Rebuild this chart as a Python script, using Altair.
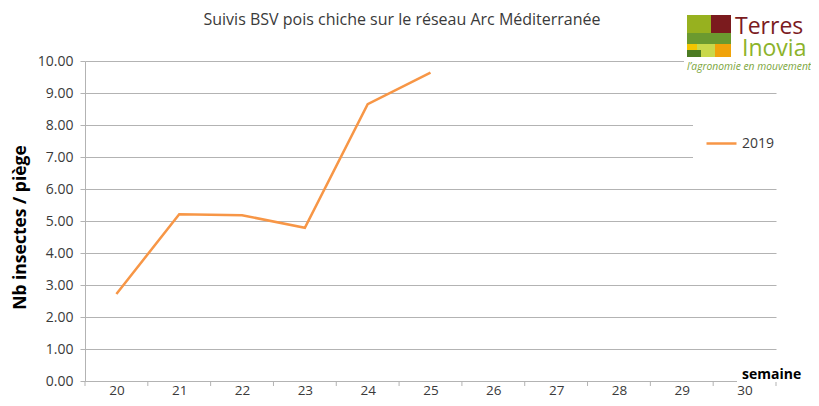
import altair as alt
import pandas as pd

# ---- data ----
weeks = [20, 21, 22, 23, 24, 25, 26, 27, 28, 29, 30]
obs_weeks = [20, 21, 22, 23, 24, 25]
values_2019 = [2.72, 5.21, 5.18, 4.79, 8.65, 9.64]
series_name = "2019"
y_ticks = [0, 1, 2, 3, 4, 5, 6, 7, 8, 9, 10]
title_text = "Suivis BSV pois chiche sur le réseau Arc Méditerranée"

df = pd.DataFrame({"semaine": obs_weeks, "valeur": values_2019, "serie": [series_name] * len(obs_weeks)})
bounds = pd.DataFrame({"b": [w - 0.5 for w in weeks] + [weeks[-1] + 0.5]})
one = pd.DataFrame({"a": [0]})

W, H = 691, 320
FONT = "Open Sans"
GRAY = "#b3b3b3"

xscale = alt.Scale(domain=[weeks[0] - 0.5, weeks[-1] + 0.5], nice=False, zero=False)
yscale = alt.Scale(domain=[0, 10], nice=False)
x_axis = alt.Axis(values=weeks, format="d", tickSize=0, grid=False, title=None,
                  labelFontSize=13.5, labelColor="#3a3a3a", labelPadding=2, labelFont=FONT,
                  domainColor=GRAY, domainWidth=1, labelFlush=False)
y_axis = alt.Axis(values=y_ticks, format=".2f", grid=True, gridColor=GRAY, gridWidth=1,
                  tickColor=GRAY, tickSize=5, domainColor=GRAY, labelFontSize=14,
                  labelColor="#3a3a3a", labelPadding=7, labelFont=FONT,
                  title="Nb insectes / piège", titleFontSize=17.5, titleFontWeight="bold",
                  titleFont=FONT, titleColor="#000000", titleX=-65, titleY=H / 2 + 6,
                  titleAngle=270, titleBaseline="middle", titleAlign="center")

line = alt.Chart(df).mark_line(strokeWidth=2.5).encode(
    x=alt.X("semaine:Q", scale=xscale, axis=x_axis),
    y=alt.Y("valeur:Q", scale=yscale, axis=y_axis),
    color=alt.Color("serie:N", scale=alt.Scale(domain=[series_name], range=["#f79646"]),
                    legend=alt.Legend(title=None, orient="none", legendX=608, legendY=54,
                                      fillColor="white", padding=12, symbolType="stroke",
                                      symbolSize=900, symbolStrokeWidth=2.5,
                                      labelFontSize=14, labelFont=FONT, labelColor="#3a3a3a",
                                      labelOffset=4)),
)

ticks = alt.Chart(bounds).mark_rule(color=GRAY, strokeWidth=1).encode(
    x=alt.X("b:Q", scale=xscale, axis=x_axis),
    y=alt.value(H), y2=alt.value(H + 5),
)

def rect(x1, x2, y1, y2, color):
    return alt.Chart(one).mark_rect(color=color, strokeWidth=0).encode(
        x=alt.value(x1), x2=alt.value(x2), y=alt.value(y1), y2=alt.value(y2))

def txt(s, x, y, size, color, weight="normal", style="normal", align="left", font=FONT):
    return alt.Chart(one).mark_text(align=align, baseline="alphabetic", fontSize=size,
                                    color=color, fontWeight=weight, fontStyle=style,
                                    font=font).encode(
        x=alt.value(x), y=alt.value(y), text=alt.value(s))

# white cover behind the "semaine" label and the logo tagline
cover_sem = rect(652, 730, 305, 321, "white")
cover_logo = rect(599, 730, -3, 13, "white")

# logo blocks
logo = [
    rect(602, 626, -46, -28, "#97b11f"),
    rect(626, 646, -46, -28, "#7b1b1e"),
    rect(602, 646, -28, -17, "#6b9a2f"),
    rect(612, 630, -17, -4, "#c9d84b"),
    rect(602, 612, -17, -11, "#f2c500"),
    rect(602, 616, -11, -4, "#4b7b22"),
    rect(630, 646, -17, -4, "#f0a30a"),
]
logo_txt = [
    txt("Terres", 650, -27, 23, "#7b1b1e"),
    txt("Inovia", 657, -5, 23, "#8cb32a"),
    txt("l’agronomie en mouvement", 602, 9, 10.3, "#7aa53a", style="italic"),
]

semaine = txt("semaine", 657, 318, 14, "#000000", weight="bold")
title = txt(title_text, 317, -36, 16, "#3a3a3a", align="center")

chart = alt.layer(line, ticks, cover_sem, cover_logo, *logo, *logo_txt, semaine, title).properties(
    width=W, height=H,
    autosize=alt.AutoSizeParams(type="none"),
    padding={"left": 77, "top": 53, "right": 35, "bottom": 17},
    background="white",
).configure_view(stroke=None)

chart.save("out.html", embed_options={"renderer": "svg", "actions": False})
